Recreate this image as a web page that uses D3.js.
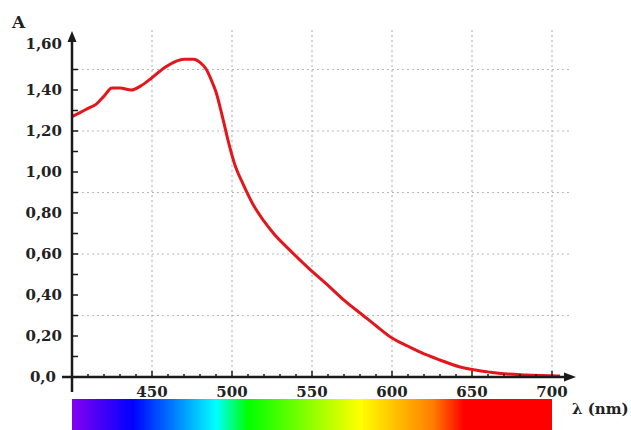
<!DOCTYPE html>
<html>
<head>
  <meta charset="utf-8">
  <script src="https://cdn.jsdelivr.net/npm/d3@7"></script>
  <style>
    body { margin: 0; background: #fff; }
    text { font-family: "DejaVu Serif", serif; font-weight: bold; fill: #222; }
    .grid line { stroke: #b8b8b8; stroke-width: 1.2; stroke-dasharray: 2,3; }
    .axis-line { stroke: #1a1a1a; stroke-width: 2.5; }
    .tick-mark { stroke: #1a1a1a; stroke-width: 1.5; }
    .curve { fill: none; stroke: #e3161c; stroke-width: 3; }
  </style>
</head>
<body>
<script>
// absorption spectrum
var wavelength = [400, 405, 410, 415, 420, 425, 430, 437, 443, 450, 458, 465, 470, 476, 480, 484, 487, 490,
                  494, 498, 502, 507, 514, 520, 526, 536, 548, 561, 570, 582, 590, 600, 610, 618, 630,
                  642, 651, 660, 668, 684, 700, 705];
var absorbance = [1.27, 1.29, 1.31, 1.33, 1.37, 1.41, 1.41, 1.40, 1.42, 1.46, 1.51, 1.54, 1.55, 1.55, 1.535, 1.50, 1.45, 1.39,
                  1.27, 1.14, 1.03, 0.94, 0.83, 0.76, 0.70, 0.62, 0.53, 0.44, 0.375, 0.30, 0.25, 0.19, 0.15, 0.12, 0.083,
                  0.05, 0.035, 0.025, 0.017, 0.01, 0.006, 0.005];

var xTicks = [450, 500, 550, 600, 650, 700];
var yTicks = [0, 0.2, 0.4, 0.6, 0.8, 1.0, 1.2, 1.4, 1.6];
var yTickLabels = ["0,0", "0,20", "0,40", "0,60", "0,80", "1,00", "1,20", "1,40", "1,60"];
var yGrid = [0.3, 0.6, 0.9, 1.2, 1.5];

// spectrum bar colour stops (nm)
var specNm = [400, 438, 490, 510, 580, 625, 645, 700];
var specColor = ["#8400f0", "#0000ff", "#00ffff", "#00ff00", "#ffff00", "#ff8000", "#ff0000", "#ff0000"];

var width = 631, height = 430;

var x = d3.scaleLinear().domain([400, 700]).range([72, 552]);
var y = d3.scaleLinear().domain([0, 1.6]).range([377, 49]);

var svg = d3.select("body").append("svg")
    .attr("width", width)
    .attr("height", height);

// grid
var grid = svg.append("g").attr("class", "grid");
grid.selectAll(".vg")
  .data(xTicks)
  .enter().append("line")
    .attr("x1", d => x(d)).attr("x2", d => x(d))
    .attr("y1", 30).attr("y2", y(0));
grid.selectAll(".hg")
  .data(yGrid)
  .enter().append("line")
    .attr("x1", x(400)).attr("x2", 572)
    .attr("y1", d => y(d)).attr("y2", d => y(d));

// spectrum bar
var defs = svg.append("defs");
var grad = defs.append("linearGradient")
    .attr("id", "spec")
    .attr("x1", "0%").attr("x2", "100%").attr("y1", "0%").attr("y2", "0%");
grad.selectAll("stop")
  .data(specNm)
  .enter().append("stop")
    .attr("offset", d => ((d - 400) / 300 * 100) + "%")
    .attr("stop-color", (d, i) => specColor[i]);

svg.append("rect")
    .attr("x", x(400))
    .attr("y", 399)
    .attr("width", x(700) - x(400))
    .attr("height", 34)
    .attr("fill", "url(#spec)");

// curve
var line = d3.line()
    .x((d, i) => x(wavelength[i]))
    .y(d => y(d))
    .curve(d3.curveMonotoneX);

svg.append("path")
    .datum(absorbance)
    .attr("class", "curve")
    .attr("d", line);

// axes
svg.append("line").attr("class", "axis-line")
    .attr("x1", x(400)).attr("x2", x(400))
    .attr("y1", 392).attr("y2", 38);
svg.append("path")
    .attr("d", "M" + x(400) + ",31 L" + (x(400) - 4.5) + ",42 L" + (x(400) + 4.5) + ",42 Z")
    .attr("fill", "#1a1a1a");

svg.append("line").attr("class", "axis-line")
    .attr("x1", 62).attr("x2", 568)
    .attr("y1", y(0)).attr("y2", y(0));
svg.append("path")
    .attr("d", "M576," + y(0) + " L564," + (y(0) - 4.5) + " L564," + (y(0) + 4.5) + " Z")
    .attr("fill", "#1a1a1a");

// y ticks every 0.1
svg.selectAll(".ytick")
  .data(d3.range(1, 16).map(d => d / 10))
  .enter().append("line")
    .attr("class", "tick-mark")
    .attr("x1", x(400)).attr("x2", x(400) + 6)
    .attr("y1", d => y(d)).attr("y2", d => y(d));

// x ticks every 10 nm, longer at labelled ones
svg.selectAll(".xtick")
  .data(d3.range(410, 701, 10))
  .enter().append("line")
    .attr("class", "tick-mark")
    .attr("x1", d => x(d)).attr("x2", d => x(d))
    .attr("y1", y(0))
    .attr("y2", d => y(0) - (d % 50 === 0 ? 6 : 3));

// labels
svg.selectAll(".ylab")
  .data(yTicks)
  .enter().append("text")
    .attr("x", (d, i) => i === 0 ? 56 : 62)
    .attr("y", (d, i) => y(d) + (i === yTicks.length - 1 ? -5 : 0))
    .attr("dy", "0.36em")
    .attr("text-anchor", "end")
    .style("font-size", "15px")
    .text((d, i) => yTickLabels[i]);

svg.selectAll(".xlab")
  .data(xTicks)
  .enter().append("text")
    .attr("x", d => x(d))
    .attr("y", 397)
    .attr("text-anchor", "middle")
    .style("font-size", "15px")
    .text(d => d);

svg.append("text")
    .attr("x", 12).attr("y", 28)
    .style("font-size", "17px")
    .text("A");

svg.append("text")
    .attr("x", 572).attr("y", 414)
    .style("font-size", "15px")
    .text("λ (nm)");
</script>
</body>
</html>
